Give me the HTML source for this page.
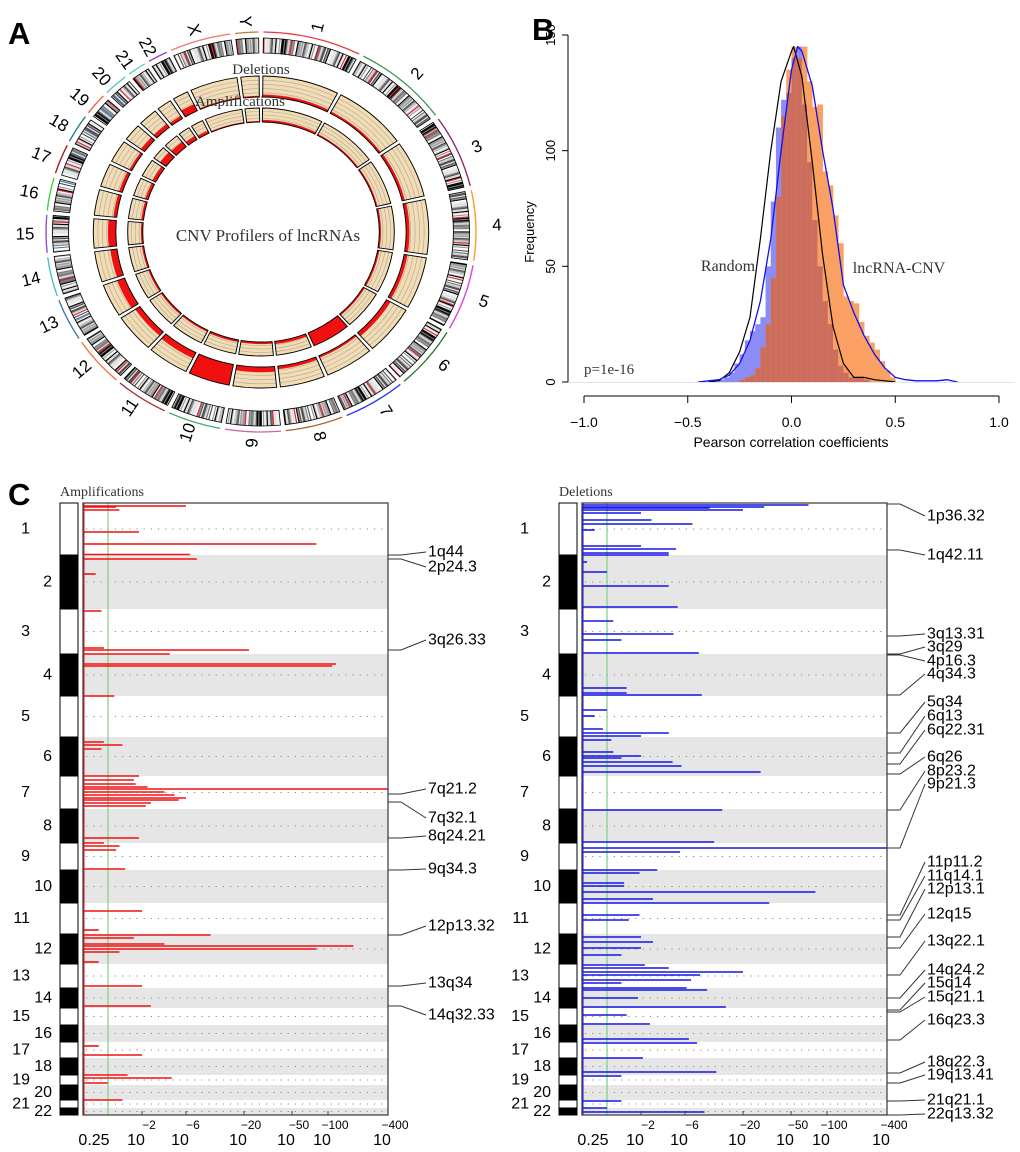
<!DOCTYPE html>
<html><head><meta charset="utf-8"><style>
html,body{margin:0;padding:0;background:#fff;}
svg{display:block;font-family:"Liberation Sans",sans-serif;}
.serif{font-family:"Liberation Serif",serif;}
</style></head><body>
<svg id="fig" width="1020" height="1152" viewBox="0 0 1020 1152" xmlns="http://www.w3.org/2000/svg">
<rect width="1020" height="1152" fill="#fff"/>
<text x="8" y="44" font-size="31" font-weight="bold">A</text>
<text x="532" y="40" font-size="31" font-weight="bold">B</text>
<text x="8" y="505" font-size="31" font-weight="bold">C</text>
<g id="circos"></g>
<g id="hist"></g>
<g id="amp"></g>
<g id="del"></g>
</svg>
<script>
// ---------- circos data ----------
const chrNames=['1','2','3','4','5','6','7','8','9','10','11','12','13','14','15','16','17','18','19','20','21','22','X','Y'];
const chrLenMb=[249,243,198,191,181,171,159,146,141,135,135,134,115,107,102,90,81,78,59,63,48,51,155,59];
const chrColors=['#e8383d','#3a9a5a','#8b2a6b','#f5a020','#e040e0','#2a7a2a','#3030f0','#a0602a','#d060a0','#3aaa6a','#a03030','#f07030','#4070b0','#40c0d0','#9050d0','#40d040','#a02020','#208080','#f06040','#60c0d0','#60d0c0','#9040c0','#f08070','#c08040'];
const delRing=[0.12,0.1,0.12,0.15,0.15,0.2,0.1,0.15,0.25,1.0,0.3,0.25,0.35,0.3,0.35,0.15,0.15,0.12,0.2,0.2,0.15,0.35,0.05,0.03];
const ampRing=[0.15,0.1,0.1,0.12,0.12,0.12,1.0,0.2,0.15,0.15,0.12,0.12,0.12,0.12,0.12,0.15,0.2,0.25,0.5,0.45,0.3,0.2,0.05,0.03];
// ---------- histogram data ----------
const hBins=[-0.35,-0.325,-0.3,-0.275,-0.25,-0.225,-0.2,-0.175,-0.15,-0.125,-0.1,-0.075,-0.05,-0.025,0,0.025,0.05,0.075,0.1,0.125,0.15,0.175,0.2,0.225,0.25,0.275,0.3,0.325,0.35,0.375,0.4,0.425,0.45,0.475];
const randCounts=[1,2,4,8,12,18,22,25,28,50,78,110,122,125,140,145,120,95,70,50,35,25,14,7,4,2,2,2,1,0,0,0,0,0];
const lncCounts=[0,0,0,0,1,2,3,6,15,25,45,80,115,135,145,140,145,130,119,120,91,85,72,60,37,35,34,26,20,17,14,9,5,2];
const randDensX=[-0.4,-0.35,-0.3,-0.25,-0.2,-0.15,-0.1,-0.05,0,0.01,0.05,0.1,0.15,0.2,0.25,0.3,0.35,0.4,0.45,0.5];
const randDensY=[0,0.5,4,13,28,62,100,130,143,145,132,95,55,24,8,2,2,1,0.5,0];
const lncDensX=[-0.45,-0.4,-0.35,-0.3,-0.25,-0.2,-0.15,-0.1,-0.05,0,0.03,0.05,0.1,0.15,0.2,0.25,0.3,0.35,0.4,0.45,0.5,0.55,0.6,0.7,0.75,0.8];
const lncDensY=[0,0.5,1,3,8,18,35,62,100,135,145,143,128,100,75,42,30,20,12,6,2,1,0.5,0.5,1,0];
const xTicksB=[-1,-0.5,0,0.5,1];
const yTicksB=[0,50,100,150];
// ---------- CNV data ----------
const chrSizes=[52,54,45,42,41,39,33,34,27,33,31,30,24,20,17,17,16,17,10,15,8,7];
const ampPos=[3,4,7,29,41,51.5,56,71,108,145,147,151,161,163,193,239,242,246,273,277,281,284,286,289,292,295,297,300,303,335,340,343,347,366,408,427,432,435,441,443,446,449,459,483,503,543,552,572,575,580,597];
const ampVal=[6,0.8,0.9,1.8,80,6.5,7.5,0.35,0.45,0.5,22,4,120,110,0.75,0.5,1.0,0.45,1.8,1.5,1.6,2.3,400,3.5,4.5,6,5,2.5,2.2,1.8,0.5,0.9,0.8,1.1,2,0.4,10,1.5,3.5,180,80,0.9,0.4,2,2.5,0.4,2,1.2,4.2,0.6,1];
const delPos=[2,4,5,7,10,17,21,27,43,46,50,52,59,69,83,104,118,131,137,150,185,190,192,207,213,226,230,233,237,249,253,255,259,263,269,307,339,345,349,367,370,380,383,389,396,400,412,417,434,439,445,452,462,465,469,472,477,480,485,487,495,504,512,521,536,540,555,569,573,598,605,609];
const delVal=[70,30,10,20,2,2.6,7,0.35,2,4.8,4,4,0.25,0.6,4,5,0.75,4.5,1,8,1.2,1.2,8.5,0.6,0.35,0.5,4,2,0.7,0.75,2,1,4.4,5.5,28,13,11,400,5.3,3,1.9,1.1,1.1,80,2.7,33,1.9,1.3,2,2.7,2,1,2.2,4,20,8.2,6.8,1,6.2,9.5,1.8,14,1.2,2.5,6.5,7.7,2.1,11.5,1,1,0.6,9];
const ampLabels=['1q44','2p24.3','3q26.33','7q21.2','7q32.1','8q24.21','9q34.3','12p13.32','13q34','14q32.33'];
const ampLabAnchor=[52,56,147,291,299,335,367,432,483,503];
const ampLabY=[552,567,640,789,818,836,869,926,983,1015];
const delLabels=['1p36.32','1q42.11','3q13.31','3q29','4p16.3','4q34.3','5q34','6q13','6q22.31','6q26','8p23.2','9p21.3','11p11.2','11q14.1','12p13.1','12q15','13q22.1','14q24.2','15q14','15q21.1','16q23.3','18q22.3','19q13.41','21q21.1','22q13.32'];
const delLabAnchor=[1,47,133,151,152,192,230,250,261,271,307,345,412,417,434,445,472,495,507,509,537,570,580,598,612];
const delLabY=[516,555,634,647,661,674,702,716,730,757,771,784,862,876,889,914,941,970,983,997,1020,1062,1075,1100,1114];
const pTickVals=[2,6,20,50,100,400];
const pTickExp=['\u22122','\u22126','\u221220','\u221250','\u2212100','\u2212400'];

const NS='http://www.w3.org/2000/svg';
function mk(parent,tag,attrs,text){const e=document.createElementNS(NS,tag);for(const k in attrs)e.setAttribute(k,attrs[k]);if(text!==undefined)e.textContent=text;parent.appendChild(e);return e;}

// ================= CIRCOS =================
(function(){
  const root=document.getElementById('circos');
  const cx=261,cy=232,sx=1.075;
  const g=mk(root,'g',{transform:`translate(${cx},${cy}) scale(${sx},1)`});
  const gap=1.3, total=chrLenMb.reduce((a,b)=>a+b,0), k=(360-gap*chrLenMb.length)/total;
  const P=(a,r)=>{const t=a*Math.PI/180;return (r*Math.sin(t)).toFixed(2)+','+(-r*Math.cos(t)).toFixed(2);};
  const sector=(a0,a1,r0,r1)=>{const l=(a1-a0)>180?1:0;return `M${P(a0,r1)}A${r1},${r1} 0 ${l} 1 ${P(a1,r1)}L${P(a1,r0)}A${r0},${r0} 0 ${l} 0 ${P(a0,r0)}Z`;};
  const arc=(a0,a1,r)=>`M${P(a0,r)}A${r},${r} 0 0 1 ${P(a1,r)}`;
  const shades=['#ffffff','#dcdcdc','#9a9a9a','#505050','#000000','#c4c4c4','#eeeeee','#7a7a7a'];
  let a=gap/2;
  chrLenMb.forEach((len,i)=>{
    const a0=a,a1=a+len*k; a=a1+gap;
    const col=mk(g,'path',{d:arc(a0,a1,200),fill:'none',stroke:chrColors[i],'stroke-width':1.3});
    
    
    const n=Math.max(4,Math.round(len/3.2));
    const ig=mk(g,'g',{});
    
    
    for(let s=0;s<n;s++){
      const b0=a0+(a1-a0)*s/n,b1=a0+(a1-a0)*(s+1)/n;
      let c=shades[(i*7+s*5+(s*s)%7)%8];
      if((s*3+i)%23===0)c='#e8202a';
      if(i>=12&&i<=21&&(s*5+i)%29===0)c='#4a7ab0';
      mk(ig,'path',{d:sector(b0,b1+0.05,179,194),fill:c,stroke:'none'});
    }
    mk(ig,'path',{d:sector(a0,a1,179,194),fill:'none',stroke:'#000','stroke-width':0.8});
    const dg=mk(g,'g',{});
    
    
    mk(dg,'path',{d:sector(a0,a1,135,156),fill:'#f3dcb2',stroke:'none'});
    for(let j=1;j<5;j++)mk(dg,'path',{d:arc(a0,a1,135+j*21/5),fill:'none',stroke:'#a9a9a9','stroke-width':0.6});
    mk(dg,'path',{d:sector(a0,a1,135,135+Math.max(1.2,delRing[i]*21)),fill:'#f01010',stroke:'none'});
    mk(dg,'path',{d:sector(a0,a1,135,156),fill:'none',stroke:'#000','stroke-width':0.9});
    const ag=mk(g,'g',{});
    
    
    mk(ag,'path',{d:sector(a0,a1,110,124),fill:'#f3dcb2',stroke:'none'});
    for(let j=1;j<4;j++)mk(ag,'path',{d:arc(a0,a1,110+j*14/4),fill:'none',stroke:'#a9a9a9','stroke-width':0.6});
    mk(ag,'path',{d:sector(a0,a1,110,110+Math.max(1,ampRing[i]*14)),fill:'#f01010',stroke:'none'});
    mk(ag,'path',{d:sector(a0,a1,110,124),fill:'none',stroke:'#000','stroke-width':0.9});
    const am=(a0+a1)/2, t=am*Math.PI/180;
    const lx=cx+236*Math.sin(t), ly=cy-211*Math.cos(t);
    const rot=am<180?am-90:am-270;
    const lab=mk(root,'text',{x:lx.toFixed(1),y:ly.toFixed(1),'font-size':17,'text-anchor':'middle','dominant-baseline':'central',transform:`rotate(${rot.toFixed(1)},${lx.toFixed(1)},${ly.toFixed(1)})`},chrNames[i]);
    
    
  });
  let t1=mk(root,'text',{x:261,y:74,'font-size':15,'text-anchor':'middle',class:'serif',fill:'#333'},'Deletions');
  
  let t2=mk(root,'text',{x:240,y:106,'font-size':15,'text-anchor':'middle',class:'serif',fill:'#333'},'Amplifications');
  
  let t3=mk(root,'text',{x:268,y:241,'font-size':17,'text-anchor':'middle',class:'serif',fill:'#333'},'CNV Profilers of  lncRNAs');
  
})();

// ================= HISTOGRAM =================
(function(){
  const root=document.getElementById('hist');
  const X=v=>584+(v+1)/2*415, Y=c=>382-c/150*347;
  const bw=0.025;
  hBins.forEach((b,i)=>{
    const x0=X(b),w=X(b+bw)-x0;
    const r=randCounts[i],l=lncCounts[i],m=Math.min(r,l);
    if(r>0){const e=mk(root,'rect',{x:x0.toFixed(2),y:Y(r).toFixed(2),width:(w+0.3).toFixed(2),height:(Y(0)-Y(r)).toFixed(2),fill:'#8c8cf6'});
      }
    if(l>0){const e=mk(root,'rect',{x:x0.toFixed(2),y:Y(l).toFixed(2),width:(w+0.3).toFixed(2),height:(Y(0)-Y(l)).toFixed(2),fill:'#f9a062'});
      }
    if(m>0){const e=mk(root,'rect',{x:x0.toFixed(2),y:Y(m).toFixed(2),width:(w+0.3).toFixed(2),height:(Y(0)-Y(m)).toFixed(2),fill:'#cd6e5c'});
      }
  });
  const rl=mk(root,'polyline',{points:randDensX.map((v,i)=>X(v).toFixed(1)+','+Y(randDensY[i]).toFixed(1)).join(' '),fill:'none',stroke:'#000','stroke-width':1.2,'stroke-linejoin':'round'});
  
  const bl=mk(root,'polyline',{points:lncDensX.map((v,i)=>X(v).toFixed(1)+','+Y(lncDensY[i]).toFixed(1)).join(' '),fill:'none',stroke:'#1010f0','stroke-width':1.3,'stroke-linejoin':'round'});
  
  mk(root,'line',{x1:568,y1:382.5,x2:1015,y2:382.5,stroke:'#e4e4e4','stroke-width':1});
  const ya=mk(root,'g',{});
  mk(ya,'line',{x1:568,y1:Y(0),x2:568,y2:Y(150),stroke:'#000','stroke-width':1});
  yTicksB.forEach(t=>{mk(ya,'line',{x1:562,y1:Y(t),x2:568,y2:Y(t),stroke:'#000'});
    mk(ya,'text',{x:555,y:Y(t),'font-size':13,'text-anchor':'middle',transform:`rotate(-90,555,${Y(t)})`},String(t));});
  const yt=mk(root,'text',{x:534,y:232,'font-size':13,'text-anchor':'middle',transform:'rotate(-90,534,232)'},'Frequency');
  
  const xa=mk(root,'g',{});
  mk(xa,'line',{x1:X(-1),y1:396,x2:X(1),y2:396,stroke:'#000'});
  xTicksB.forEach(t=>{mk(xa,'line',{x1:X(t),y1:396,x2:X(t),y2:403,stroke:'#000'});
    mk(xa,'text',{x:X(t),y:427,'font-size':14,'text-anchor':'middle'},(t<0?'\u2212':'')+Math.abs(t).toFixed(1));});
  const xt=mk(root,'text',{x:791,y:447,'font-size':14,'text-anchor':'middle'},'Pearson correlation coefficients');
  
  let a=mk(root,'text',{x:728,y:271,'font-size':16,'text-anchor':'middle',class:'serif',fill:'#333'},'Random');
  
  a=mk(root,'text',{x:899,y:273,'font-size':16,'text-anchor':'middle',class:'serif',fill:'#333'},'lncRNA-CNV');
  
  a=mk(root,'text',{x:584,y:374,'font-size':15,class:'serif',fill:'#333'},'p=1e-16');
  
})();

// ================= CNV PANELS =================
function cnvPanel(rootId,x0,pos,vals,color,title,labels,anchors,labY,kind){
  const root=document.getElementById(rootId);
  const top=503,H=612,W=305,total=chrSizes.reduce((a,b)=>a+b,0);
  const Yg=g=>top+g/total*H;
  const kv=[0.2,0.6,2,6,20,50,100,400], kp=[0,25,59,103,161,209,245,305];
  const Xv=v=>{const L=Math.log10(v);for(let i=0;i<kv.length-1;i++){const a=Math.log10(kv[i]),b=Math.log10(kv[i+1]);if(L<=b||i===kv.length-2){return x0+kp[i]+(Math.max(L,a)-a)/(b-a)*(kp[i+1]-kp[i]);}}};
  const tt=mk(root,'text',{x:x0-23,y:496,'font-size':14,class:'serif',fill:'#333'},title);
  
  let c=0;
  chrSizes.forEach((s,i)=>{
    const y0=Yg(c),y1=Yg(c+s);c+=s;
    if(i%2===1){const b=mk(root,'rect',{x:x0,y:y0,width:W,height:y1-y0,fill:'#e6e6e6'});
      }
    const cb=mk(root,'rect',{x:x0-23,y:y0,width:18,height:y1-y0,fill:i%2?'#000':'#fff',stroke:'#000','stroke-width':1});
    
    const ym=(y0+y1)/2;
    mk(root,'line',{x1:x0+3,y1:ym,x2:x0+W-3,y2:ym,stroke:'#8a8a8a','stroke-width':1,'stroke-dasharray':'1.2,6'});
    const lt=mk(root,'text',{x:i%2?x0-31:x0-53,y:ym,'font-size':16,'text-anchor':'end','dominant-baseline':'central'},String(i+1));
    
  });
  mk(root,'line',{x1:x0+25,y1:top,x2:x0+25,y2:top+H,stroke:'#7fd07f','stroke-width':1.2});
  pos.forEach((p,i)=>{
    const y=Yg(p);
    const l=mk(root,'line',{x1:x0+1,y1:y.toFixed(2),x2:Xv(vals[i]).toFixed(2),y2:y.toFixed(2),stroke:color,'stroke-width':1.6});
    
  });
  mk(root,'line',{x1:x0+1,y1:top,x2:x0+1,y2:top+H,stroke:color,'stroke-width':1});
  const bx=mk(root,'rect',{x:x0,y:top,width:W,height:H,fill:'none',stroke:'#444','stroke-width':1.3});
  
  const ax=mk(root,'g',{});
  mk(ax,'text',{x:x0+11,y:1145,'font-size':16,'text-anchor':'middle'},'0.25');
  pTickVals.forEach((v,i)=>{const x=Xv(v);
    mk(ax,'line',{x1:x,y1:top+H,x2:x,y2:top+H-4,stroke:'#444'});
    mk(ax,'text',{x:x-6,y:1145,'font-size':16,'text-anchor':'middle'},'10');
    mk(ax,'text',{x:x+7,y:1129,'font-size':12,'text-anchor':'middle'},pTickExp[i]);});
  const R=x0+W;
  labels.forEach((lab,i)=>{
    const ya=Yg(anchors[i]);
    const pl=mk(root,'polyline',{points:`${R},${ya} ${R+13},${ya} ${R+38},${labY[i]}`,fill:'none',stroke:'#333','stroke-width':1});
    
    const t=mk(root,'text',{x:R+40,y:labY[i],'font-size':16,'dominant-baseline':'central'},lab);
    
  });
}
cnvPanel('amp',83,ampPos,ampVal,'#f01010','Amplifications',ampLabels,ampLabAnchor,ampLabY,'amplification');
cnvPanel('del',582,delPos,delVal,'#1515e8','Deletions',delLabels,delLabAnchor,delLabY,'deletion');
</script>
</body></html>
